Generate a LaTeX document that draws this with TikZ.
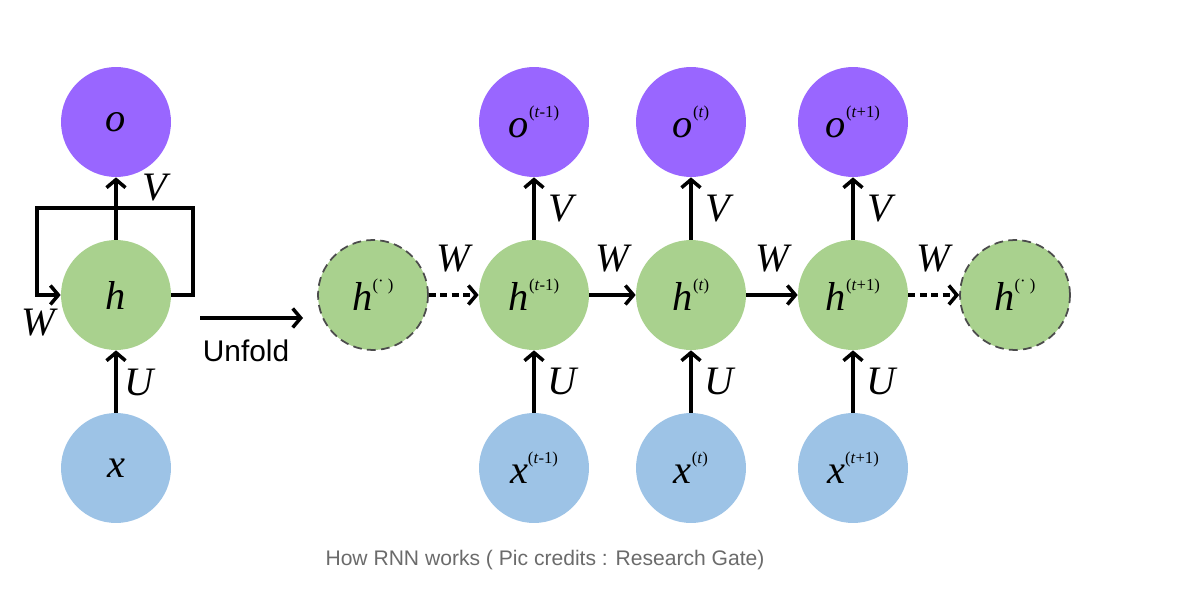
\documentclass[tikz,border=0pt]{standalone}
\usepackage{fontspec}
\setmainfont{Liberation Serif}
\setsansfont{Liberation Sans}
\usetikzlibrary{arrows.meta}

\definecolor{outcol}{RGB}{153,102,255}
\definecolor{hidcol}{RGB}{169,209,142}
\definecolor{inpcol}{RGB}{157,195,230}
\definecolor{capcol}{RGB}{107,107,107}

% letter with a small raised step index
\newcommand{\stepsym}[2]{\textit{#1}\raisebox{0.5em}{\fontsize{9.5}{10}\selectfont(#2)}}

\begin{document}
\begin{tikzpicture}[x=0.02cm,y=-0.02cm]
        \tikzstyle{every node}+=[inner sep=0pt]
        \tikzstyle{unit}=[circle, minimum size=2.2cm, font=\fontsize{23}{26}\selectfont]
        \tikzstyle{outn}=[unit, fill=outcol]
        \tikzstyle{hidn}=[unit, fill=hidcol]
        \tikzstyle{inpn}=[unit, fill=inpcol]
        \tikzstyle{ghost}=[hidn, draw=black!70, line width=1pt, dash pattern=on 5pt off 3pt]
        \tikzstyle{lab}=[font=\fontsize{23}{26}\selectfont\itshape]
        \tikzstyle{conn}=[line width=2pt, -{Straight Barb[length=1.6mm, width=3.8mm]}]
        \tikzstyle{dconn}=[conn, dash pattern=on 4pt off 2.5pt]
        \useasboundingbox (0,0) rectangle (1200,608);

        % folded network
        \node[outn] (o) at (116,122) {\textit{o}};
        \node[hidn] (h) at (116,295) {\textit{h}};
        \node[inpn] (x) at (116,468) {\textit{x}};
        \coordinate (loopR) at (193,208);
        \coordinate (loopL) at (37,208);
        \draw[conn] (h) -- (o);
        \draw[conn] (x) -- (h);
        \draw[conn] (h.east) -| (loopR) -| (loopL) |- (h.west);
        \node[lab] (vl) at (155,188) {V};
        \node[lab] (wl) at (38,323) {W};
        \node[lab] (ul) at (139,382) {U};

        % unfold arrow
        \coordinate (unfA) at (200,318);
        \coordinate (unfB) at (303,318);
        \draw[conn] (unfA) -- (unfB);
        \node[font=\sffamily\fontsize{17}{20}\selectfont] (unf) at (246,351) {Unfold};

        % unrolled network
        \node[ghost] (hp) at (373,295) {\stepsym{h}{\raisebox{0.25em}{\textperiodcentered}\ }};
        \node[hidn] (h1) at (534,295) {\stepsym{h}{\textit{t}-1}};
        \node[hidn] (h2) at (691,295) {\stepsym{h}{\textit{t}}};
        \node[hidn] (h3) at (853,295) {\stepsym{h}{\textit{t}+1}};
        \node[ghost] (hn) at (1015,295) {\stepsym{h}{\raisebox{0.25em}{\textperiodcentered}\ }};
        \node[outn] (o1) at (534,122) {\stepsym{o}{\textit{t}-1}};
        \node[outn] (o2) at (691,122) {\stepsym{o}{\textit{t}}};
        \node[outn] (o3) at (853,122) {\stepsym{o}{\textit{t}+1}};
        \node[inpn] (x1) at (534,468) {\stepsym{x}{\textit{t}-1}};
        \node[inpn] (x2) at (691,468) {\stepsym{x}{\textit{t}}};
        \node[inpn] (x3) at (853,468) {\stepsym{x}{\textit{t}+1}};

        \draw[conn] (h1) -- node[lab, right=0.26cm] {V} (o1);
        \draw[conn] (h2) -- node[lab, right=0.26cm] {V} (o2);
        \draw[conn] (h3) -- node[lab, right=0.26cm] {V} (o3);
        \draw[conn] (x1) -- node[lab, right=0.24cm] {U} (h1);
        \draw[conn] (x2) -- node[lab, right=0.24cm] {U} (h2);
        \draw[conn] (x3) -- node[lab, right=0.24cm] {U} (h3);
        \draw[dconn] (hp) -- node[lab, above=0.42cm] {W} (h1);
        \draw[conn] (h1) -- node[lab, above=0.42cm] {W} (h2);
        \draw[conn] (h2) -- node[lab, above=0.42cm] {W} (h3);
        \draw[dconn] (h3) -- node[lab, above=0.42cm] {W} (hn);

        % caption
        \node[font=\sffamily\fontsize{12}{14}\selectfont, text=capcol] (cap) at (545,560)
            {How RNN works ( Pic credits : Research Gate)};
\end{tikzpicture}
\end{document}
